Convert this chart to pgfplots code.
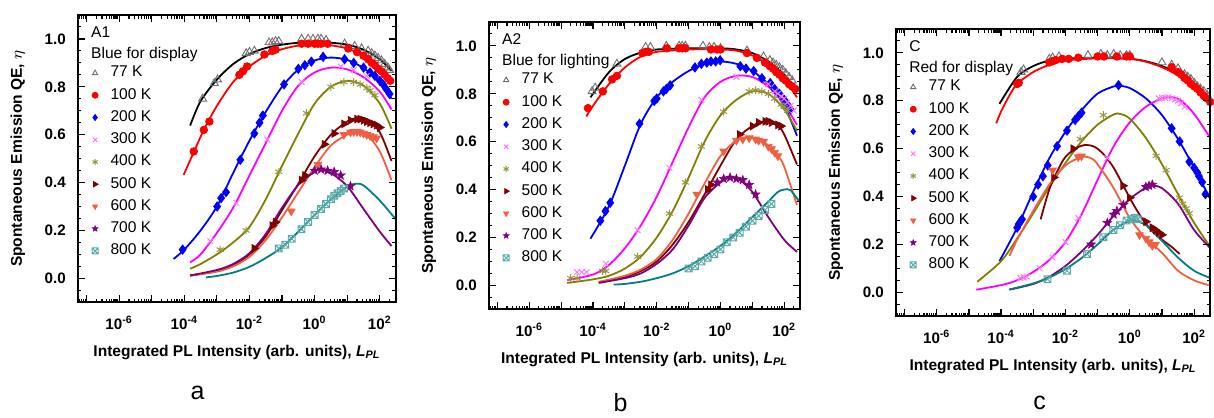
\documentclass[border=0pt]{standalone}
\usepackage{fontspec}
\setmainfont{Liberation Sans}
\usepackage{pgfplots}
\pgfplotsset{compat=1.18}
\usetikzlibrary{plotmarks}

\definecolor{cGray}{RGB}{110,110,110}
\definecolor{cMag}{RGB}{255,0,255}
\definecolor{cMagM}{RGB}{255,120,255}
\definecolor{cOlive}{RGB}{128,128,0}
\definecolor{cOliveM}{RGB}{150,150,60}
\definecolor{cDRed}{RGB}{128,0,0}
\definecolor{cOrng}{RGB}{240,96,64}
\definecolor{cPurp}{RGB}{128,0,128}
\definecolor{cTeal}{RGB}{0,128,128}
\definecolor{cTealM}{RGB}{90,170,170}

% filled five-point star
\pgfdeclareplotmark{fstar}{%
  \pgfpathmoveto{\pgfpointpolar{90}{\pgfplotmarksize}}%
  \pgfpathlineto{\pgfpointpolar{126}{0.42\pgfplotmarksize}}%
  \pgfpathlineto{\pgfpointpolar{162}{\pgfplotmarksize}}%
  \pgfpathlineto{\pgfpointpolar{198}{0.42\pgfplotmarksize}}%
  \pgfpathlineto{\pgfpointpolar{234}{\pgfplotmarksize}}%
  \pgfpathlineto{\pgfpointpolar{270}{0.42\pgfplotmarksize}}%
  \pgfpathlineto{\pgfpointpolar{306}{\pgfplotmarksize}}%
  \pgfpathlineto{\pgfpointpolar{342}{0.42\pgfplotmarksize}}%
  \pgfpathlineto{\pgfpointpolar{18}{\pgfplotmarksize}}%
  \pgfpathlineto{\pgfpointpolar{54}{0.42\pgfplotmarksize}}%
  \pgfpathclose\pgfusepathqfillstroke}
% box with a cross
\pgfdeclareplotmark{boxx}{%
  \pgfpathrectangle{\pgfpoint{-\pgfplotmarksize}{-\pgfplotmarksize}}{\pgfpoint{2\pgfplotmarksize}{2\pgfplotmarksize}}%
  \pgfpathmoveto{\pgfpoint{-\pgfplotmarksize}{-\pgfplotmarksize}}%
  \pgfpathlineto{\pgfpoint{\pgfplotmarksize}{\pgfplotmarksize}}%
  \pgfpathmoveto{\pgfpoint{-\pgfplotmarksize}{\pgfplotmarksize}}%
  \pgfpathlineto{\pgfpoint{\pgfplotmarksize}{-\pgfplotmarksize}}%
  \pgfusepathqstroke}

\pgfplotsset{legend image code/.code={\path (0cm,0cm) (0.38cm,0cm); \draw[#1,mark size=1.5pt] plot coordinates {(0.15cm,0cm)};}}

\pgfplotsset{
  qe/.style={
    scale only axis, height=144pt,
    xmin=5.4e-8, xmax=316, ymin=-0.1, ymax=1.1,
    axis line style={draw=black,line width=0.9pt},
    tick style={draw=black,line width=0.6pt},
    xtick={1e-7,1e-6,1e-5,1e-4,1e-3,1e-2,1e-1,1,1e1,1e2},
    xticklabels={,10\textsuperscript{-6},,10\textsuperscript{-4},,10\textsuperscript{-2},,10\textsuperscript{0},,10\textsuperscript{2}},
    ytick={0,0.2,0.4,0.6,0.8,1},
    yticklabels={0.0,0.2,0.4,0.6,0.8,1.0},
    major tick length=3.5pt, minor tick length=1.8pt,
    tick label style={font=\fontsize{7.6}{9}\selectfont\bfseries},
    yticklabel style={xshift=-2.5pt},
    xticklabel style={yshift=-3.5pt},
    label style={font=\fontsize{7.8}{9.5}\selectfont\bfseries},
    xlabel style={yshift=-1pt},
    ylabel style={yshift=3pt},
    xlabel={Integrated PL Intensity (arb. units), \textit{L}\textsubscript{\textit{PL}}},
    ylabel={Spontaneous Emission QE, $\eta$},
    legend style={draw=none,fill=none,at={(0,1)},anchor=north west,xshift=4pt,yshift=-23pt,
      font=\fontsize{7.8}{9}\selectfont,inner sep=0pt,row sep=-0.8pt,
      nodes={inner xsep=1pt,inner ysep=2.5pt}},
    legend cell align=left,
  },
  curve/.style={smooth,no markers,line width=0.9pt,forget plot},
  m77/.style={only marks,color=cGray,mark=triangle,mark size=2.3pt,mark options={solid,line width=0.45pt,fill=none}},
  m100/.style={only marks,color=red,mark=*,mark size=1.9pt,mark options={solid}},
  m200/.style={only marks,color=blue,mark=diamond*,mark size=2.3pt,mark options={solid}},
  m300/.style={only marks,color=cMagM,mark=x,mark size=2pt,mark options={solid,line width=0.5pt}},
  m400/.style={only marks,color=cOliveM,mark=asterisk,mark size=2pt,mark options={solid,line width=0.5pt}},
  m500/.style={only marks,color=cDRed,mark=triangle*,mark size=2.2pt,mark options={solid,rotate=-90}},
  m600/.style={only marks,color=cOrng,mark=triangle*,mark size=2.2pt,mark options={solid,rotate=180}},
  m700/.style={only marks,color=cPurp,mark=fstar,mark size=2.3pt,mark options={solid,line width=0.3pt}},
  m800/.style={only marks,color=cTealM,mark=boxx,mark size=1.7pt,mark options={solid,line width=0.5pt}},
}

\newcommand{\ttl}[2]{%
  \node[anchor=base west,inner sep=0pt,font=\fontsize{7.8}{9}\selectfont,xshift=6.5pt,yshift=-11.3pt] at (rel axis cs:0,1) {#1};
  \node[anchor=base west,inner sep=0pt,font=\fontsize{7.8}{9}\selectfont,xshift=6.5pt,yshift=-21.7pt] at (rel axis cs:0,1) {#2};}

% frame and inward ticks built from thin filled bars: #1 left, #2 bottom, #3 width (pt)
\newcommand{\frm}[3]{%
  \begin{scope}[x=1pt,y=1pt,fill=black,fill opacity=1]
  \pgfmathsetmacro{\frsc}{#3/9.7673}
  \fill ({#1-0.45},{#2-0.45}) rectangle ({#1+#3+0.45},{#2+0.45});
  \fill ({#1-0.45},{#2+143.55}) rectangle ({#1+#3+0.45},{#2+144.45});
  \fill ({#1-0.45},{#2}) rectangle ({#1+0.45},{#2+144});
  \fill ({#1+#3-0.45},{#2}) rectangle ({#1+#3+0.45},{#2+144});
  \foreach \d in {-7,...,2}{
    \pgfmathsetmacro{\xx}{#1+(\d+7.2676)*\frsc}
    \fill ({\xx-0.3},{#2}) rectangle ({\xx+0.3},{#2+3.5});
    \fill ({\xx-0.3},{#2+144}) rectangle ({\xx+0.3},{#2+140.5});}
  \foreach \d/\m in {-8/6,-8/7,-8/8,-8/9,2/2,2/3}{
    \pgfmathsetmacro{\xx}{#1+(\d+log10(\m)+7.2676)*\frsc}
    \fill ({\xx-0.25},{#2}) rectangle ({\xx+0.25},{#2+1.8});
    \fill ({\xx-0.25},{#2+144}) rectangle ({\xx+0.25},{#2+142.2});}
  \foreach \d in {-7,...,1}{\foreach \m in {2,...,9}{
    \pgfmathsetmacro{\xx}{#1+(\d+log10(\m)+7.2676)*\frsc}
    \fill ({\xx-0.25},{#2}) rectangle ({\xx+0.25},{#2+1.8});
    \fill ({\xx-0.25},{#2+144}) rectangle ({\xx+0.25},{#2+142.2});}}
  \foreach \u in {0,0.2,0.4,0.6,0.8,1}{
    \pgfmathsetmacro{\yy}{#2+(\u+0.1)*120}
    \fill ({#1},{\yy-0.3}) rectangle ({#1+3.5},{\yy+0.3});
    \fill ({#1+#3},{\yy-0.3}) rectangle ({#1+#3-3.5},{\yy+0.3});}
  \foreach \u in {-0.05,0.05,0.1,0.15,0.25,0.3,0.35,0.45,0.5,0.55,0.65,0.7,0.75,0.85,0.9,0.95,1.05}{
    \pgfmathsetmacro{\yy}{#2+(\u+0.1)*120}
    \fill ({#1},{\yy-0.25}) rectangle ({#1+1.8},{\yy+0.25});
    \fill ({#1+#3},{\yy-0.25}) rectangle ({#1+#3-1.8},{\yy+0.25});}
  \end{scope}}

\begin{document}
\begin{tikzpicture}
% page extent: moves only, nothing drawn
\path (0,0) (607pt,-207.5pt);

% ---------------- panel a ----------------
\begin{axis}[xmode=log,qe,width=159.5pt,at={(39pt,-151.5pt)},anchor=south west]
\addplot[curve,black] coordinates {(1.51e-4,0.638) (3.16e-4,0.74) (1e-3,0.83) (3.16e-3,0.895) (1e-2,0.937) (3.16e-2,0.962) (0.1,0.976) (0.316,0.984) (1,0.986) (3.16,0.984) (10,0.976) (31.6,0.955) (100,0.915) (229,0.866)};
\addplot[m77] coordinates {(3.63e-4,0.75) (8.32e-4,0.815) (1.05e-3,0.83) (7.94e-3,0.94) (1e-2,0.945) (1.41e-2,0.95) (3.98e-2,0.985) (5.01e-2,0.985) (6.31e-2,0.99) (7.94e-2,0.99) (0.398,1.0) (0.631,1.0) (0.891,1.0) (1.26,1.0) (1.58,1.0) (2.24,0.995) (8.32,0.98) (17.0,0.97) (27.5,0.96) (43.7,0.95) (56.2,0.94) (70.8,0.93) (89.1,0.92) (112,0.91) (141,0.895) (178,0.88) (200,0.87)};
\addplot[curve,red] coordinates {(9.55e-5,0.432) (2.0e-4,0.53) (3.98e-4,0.62) (1e-3,0.72) (3.16e-3,0.82) (1e-2,0.885) (3.16e-2,0.93) (0.1,0.957) (0.316,0.972) (1,0.977) (3.16,0.973) (10,0.96) (31.6,0.93) (100,0.88) (229,0.82)};
\addplot[m100] coordinates {(1.95e-4,0.53) (3.98e-4,0.62) (5.89e-4,0.655) (4.9e-3,0.85) (6.31e-3,0.865) (8.51e-3,0.885) (2.88e-2,0.935) (5.01e-2,0.95) (6.31e-2,0.955) (0.398,0.98) (0.631,0.98) (1,0.98) (1.26,0.98) (1.58,0.98) (2.51,0.98) (10.7,0.96) (20.0,0.945) (31.6,0.93) (43.7,0.915) (56.2,0.9) (70.8,0.89) (89.1,0.875) (112,0.865) (141,0.85) (178,0.835) (209,0.825)};
\addplot[curve,blue] coordinates {(4.68e-5,0.081) (1e-4,0.12) (3.16e-4,0.2) (1e-3,0.30) (3.16e-3,0.44) (1e-2,0.575) (3.16e-2,0.695) (0.1,0.80) (0.316,0.872) (1,0.91) (3.16,0.922) (10,0.912) (31.6,0.878) (100,0.82) (229,0.75)};
\addplot[m200] coordinates {(8.91e-5,0.12) (1.02e-3,0.30) (1.35e-3,0.335) (1.91e-3,0.36) (5.25e-3,0.495) (1.41e-2,0.605) (2.04e-2,0.65) (2.57e-2,0.68) (0.115,0.81) (0.316,0.875) (0.501,0.89) (0.794,0.905) (1.82,0.925) (8.32,0.915) (15.8,0.9) (31.6,0.88) (50.1,0.86) (70.8,0.845) (100,0.825) (126,0.81) (158,0.79) (200,0.77)};
\addplot[curve,cMag] coordinates {(1.51e-4,0.067) (3.16e-4,0.1) (1e-3,0.19) (3.16e-3,0.295) (1e-2,0.43) (3.16e-2,0.565) (0.1,0.70) (0.316,0.805) (1,0.86) (3.16,0.88) (10,0.873) (31.6,0.84) (100,0.78) (229,0.705)};
\addplot[m300] coordinates {(6.31e-4,0.155) (3.98e-3,0.315) (3.55e-2,0.58) (0.398,0.82) (6.31,0.885) (15.8,0.87) (39.8,0.845)};
\addplot[curve,cOlive] coordinates {(1.51e-4,0.04) (3.16e-4,0.06) (1e-3,0.1) (3.16e-3,0.15) (1e-2,0.215) (3.16e-2,0.33) (0.1,0.47) (0.316,0.605) (1,0.73) (3.16,0.8) (10,0.825) (31.6,0.805) (100,0.73) (229,0.625)};
\addplot[m400] coordinates {(1.26e-3,0.12) (7.94e-3,0.2) (7.94e-2,0.445) (0.562,0.69) (3.16,0.8) (7.94,0.82) (15.8,0.82) (25.1,0.81) (39.8,0.795) (50.1,0.785) (70.8,0.765)};
\addplot[curve,cDRed] coordinates {(1.51e-4,0.012) (1e-3,0.03) (3.16e-3,0.055) (1e-2,0.1) (3.16e-2,0.175) (0.1,0.285) (0.316,0.395) (1,0.51) (3.16,0.6) (10,0.655) (20,0.67) (39.8,0.665) (100,0.61) (229,0.49)};
\addplot[m500] coordinates {(1.41e-2,0.125) (5.01e-2,0.22) (6.31e-2,0.235) (0.398,0.41) (0.501,0.43) (2.0,0.56) (3.98,0.605) (7.94,0.645) (12.6,0.66) (20.0,0.665) (25.1,0.665) (31.6,0.66) (39.8,0.655) (50.1,0.65) (63.1,0.645) (79.4,0.64) (100,0.63)};
\addplot[curve,cOrng] coordinates {(1.51e-4,0.011) (1e-3,0.028) (3.16e-3,0.05) (1e-2,0.09) (3.16e-2,0.16) (0.1,0.255) (0.316,0.36) (1,0.465) (3.16,0.555) (10,0.6) (20,0.61) (39.8,0.6) (100,0.53) (229,0.41)};
\addplot[m600] coordinates {(0.191,0.28) (1.26,0.475) (7.94,0.6) (12.6,0.61) (15.8,0.612) (20.0,0.612) (25.1,0.61) (31.6,0.605) (39.8,0.6) (50.1,0.595) (63.1,0.59) (79.4,0.585)};
\addplot[curve,cPurp] coordinates {(1.51e-4,0.012) (1e-3,0.035) (3.16e-3,0.06) (1e-2,0.105) (3.16e-2,0.185) (0.1,0.295) (0.316,0.39) (1,0.445) (1.58,0.452) (3.16,0.44) (10,0.385) (31.6,0.29) (100,0.195) (229,0.135)};
\addplot[m700] coordinates {(1,0.45) (1.58,0.455) (2.51,0.45) (3.98,0.445) (6.31,0.43) (12.6,0.385)};
\addplot[curve,cTeal] coordinates {(4.68e-4,0.004) (1e-3,0.01) (3.16e-3,0.024) (1e-2,0.048) (3.16e-2,0.085) (0.1,0.13) (0.316,0.195) (1,0.265) (3.16,0.33) (10,0.383) (17.8,0.395) (31.6,0.388) (100,0.325) (316,0.245)};
\addplot[m800] coordinates {(7.94e-2,0.125) (0.126,0.14) (0.2,0.165) (0.398,0.205) (0.631,0.235) (1,0.265) (1.58,0.29) (2.24,0.31) (3.16,0.33) (3.98,0.345) (5.01,0.355) (6.31,0.365) (7.94,0.375)};
\legend{77 K,100 K,200 K,300 K,400 K,500 K,600 K,700 K,800 K}
\ttl{A1}{Blue for display}
\end{axis}

% ---------------- panel b ----------------
\begin{axis}[xmode=log,qe,width=156pt,at={(245pt,-155pt)},anchor=south west]
\addplot[curve,black] coordinates {(8.32e-5,0.785) (3.16e-4,0.89) (1e-3,0.945) (3.16e-3,0.972) (1e-2,0.985) (0.1,0.99) (1,0.99) (3.16,0.985) (10,0.97) (31.6,0.935) (100,0.88) (251,0.81)};
\addplot[m77] coordinates {(9.33e-5,0.81) (1.17e-4,0.825) (5.62e-4,0.925) (4.47e-3,0.995) (6.31e-3,0.995) (2.0e-2,1.0) (5.01e-2,1.0) (6.31e-2,1.0) (7.94e-2,1.0) (0.282,1.0) (0.447,0.995) (0.631,0.995) (1,0.99) (6.76,0.98) (22.4,0.955) (35.5,0.94) (44.7,0.93) (56.2,0.92) (70.8,0.91) (89.1,0.9) (112,0.885) (141,0.87) (178,0.855)};
\addplot[curve,red] coordinates {(6.17e-5,0.705) (1e-4,0.75) (3.16e-4,0.84) (1e-3,0.91) (3.16e-3,0.955) (1e-2,0.975) (0.1,0.985) (1,0.985) (3.16,0.98) (10,0.96) (31.6,0.92) (100,0.86) (251,0.785)};
\addplot[m100] coordinates {(6.92e-5,0.74) (2.04e-4,0.81) (3.98e-4,0.86) (5.62e-4,0.875) (3.55e-3,0.97) (4.47e-3,0.975) (5.62e-3,0.975) (2.09e-2,0.99) (5.01e-2,0.99) (6.31e-2,0.99) (7.94e-2,0.99) (0.501,0.985) (0.794,0.985) (1,0.985) (6.76,0.97) (13.8,0.95) (25.1,0.93) (35.5,0.915) (44.7,0.905) (56.2,0.89) (70.8,0.88) (89.1,0.865) (112,0.855) (141,0.84) (178,0.83) (224,0.82)};
\addplot[curve,blue] coordinates {(8.32e-5,0.195) (3.16e-4,0.33) (1e-3,0.5) (3.16e-3,0.675) (1e-2,0.785) (3.16e-2,0.85) (0.1,0.895) (0.316,0.925) (1,0.935) (3.16,0.925) (10,0.895) (31.6,0.84) (100,0.75) (251,0.625)};
\addplot[m200] coordinates {(1.7e-4,0.27) (2.45e-4,0.31) (3.47e-4,0.345) (2.88e-3,0.675) (8.32e-3,0.77) (1e-2,0.78) (1.62e-2,0.81) (2.0e-2,0.82) (2.63e-2,0.835) (0.158,0.91) (0.251,0.925) (0.372,0.93) (0.501,0.935) (0.708,0.935) (0.977,0.94) (4.17,0.915) (6.31,0.905) (11.0,0.895) (20.0,0.865) (36.3,0.845) (50.1,0.82) (70.8,0.8) (100,0.775) (126,0.755) (158,0.735)};
\addplot[curve,cMag] coordinates {(1.55e-5,0.022) (1e-4,0.045) (3.16e-4,0.085) (1e-3,0.155) (3.16e-3,0.25) (1e-2,0.37) (3.16e-2,0.515) (0.1,0.66) (0.316,0.785) (1,0.85) (3.16,0.875) (10,0.87) (31.6,0.83) (100,0.755) (251,0.67)};
\addplot[m300] coordinates {(3.16e-5,0.055) (4.47e-5,0.055) (6.31e-5,0.055) (2.51e-4,0.09) (2.51e-3,0.23) (2.51e-2,0.49) (0.251,0.775) (3.16,0.87) (31.6,0.84) (50.1,0.81) (63.1,0.8) (79.4,0.79) (100,0.78) (126,0.765) (158,0.75) (200,0.73)};
\addplot[curve,cOlive] coordinates {(1.55e-5,0.01) (1e-4,0.025) (3.16e-4,0.04) (1e-3,0.07) (3.16e-3,0.12) (1e-2,0.2) (3.16e-2,0.31) (0.1,0.45) (0.316,0.6) (1,0.71) (3.16,0.775) (10,0.81) (31.6,0.8) (100,0.735) (251,0.645)};
\addplot[m400] coordinates {(2.0e-5,0.03) (3.16e-5,0.03) (2.0e-4,0.06) (2.51e-4,0.06) (2.51e-3,0.12) (2.51e-2,0.3) (7.94e-2,0.43) (0.251,0.58) (1.26,0.725) (7.94,0.81) (12.6,0.815) (20.0,0.81) (31.6,0.8) (50.1,0.78) (79.4,0.755) (100,0.745) (126,0.73)};
\addplot[curve,cDRed] coordinates {(1.51e-4,0.014) (1e-3,0.035) (3.16e-3,0.06) (1e-2,0.1) (3.16e-2,0.17) (0.1,0.265) (0.316,0.38) (1,0.5) (3.16,0.61) (10,0.665) (25.1,0.685) (63.1,0.665) (100,0.63) (251,0.505)};
\addplot[m500] coordinates {(0.398,0.4) (0.501,0.42) (3.98,0.63) (10,0.665) (15.8,0.68) (25.1,0.685) (31.6,0.685) (39.8,0.68) (63.1,0.67) (79.4,0.665)};
\addplot[curve,cOrng] coordinates {(1.51e-4,0.014) (1e-3,0.04) (3.16e-3,0.066) (1e-2,0.11) (3.16e-2,0.19) (0.1,0.3) (0.316,0.425) (1,0.54) (3.16,0.605) (7.94,0.618) (20,0.605) (63.1,0.54) (100,0.495) (251,0.335)};
\addplot[m600] coordinates {(0.182,0.38) (1.26,0.56) (3.16,0.605) (5.01,0.61) (7.94,0.615) (12.6,0.61) (15.8,0.605) (22.4,0.6) (31.6,0.58) (39.8,0.57) (50.1,0.555) (63.1,0.54)};
\addplot[curve,cPurp] coordinates {(1.51e-4,0.01) (1e-3,0.03) (3.16e-3,0.05) (1e-2,0.09) (3.16e-2,0.15) (0.1,0.25) (0.316,0.365) (1,0.43) (2.0,0.45) (3.98,0.44) (10,0.39) (31.6,0.285) (100,0.19) (251,0.14)};
\addplot[m700] coordinates {(0.794,0.43) (1.26,0.445) (2.0,0.45) (3.16,0.445) (5.01,0.44) (7.94,0.42) (12.6,0.38)};
\addplot[curve,cTeal] coordinates {(4.47e-4,0.003) (1e-3,0.006) (3.16e-3,0.015) (1e-2,0.03) (3.16e-2,0.05) (0.1,0.08) (0.316,0.12) (1,0.165) (3.16,0.22) (10,0.285) (31.6,0.35) (63.1,0.39) (100,0.4) (158,0.397) (316,0.345)};
\addplot[m800] coordinates {(0.1,0.07) (0.158,0.08) (0.251,0.1) (0.398,0.115) (0.631,0.13) (1,0.15) (1.58,0.18) (2.51,0.2) (3.98,0.22) (6.31,0.245) (10,0.27) (15.8,0.29) (25.1,0.315) (39.8,0.34)};
\legend{77 K,100 K,200 K,300 K,400 K,500 K,600 K,700 K,800 K}
\ttl{A2}{Blue for lighting}
\end{axis}

% ---------------- panel c ----------------
\begin{axis}[xmode=log,qe,width=157.5pt,at={(449pt,-158.5pt)},anchor=south west]
\addplot[curve,black] coordinates {(8.91e-5,0.787) (3.16e-4,0.9) (1e-3,0.945) (3.16e-3,0.968) (1e-2,0.976) (0.1,0.98) (1,0.975) (3.16,0.965) (10,0.945) (31.6,0.915) (100,0.87) (316,0.8)};
\addplot[m77] coordinates {(4.17e-4,0.92) (5.01e-4,0.93) (3.16e-3,0.975) (3.98e-3,0.98) (6.31e-3,0.985) (5.01e-2,0.99) (0.126,0.995) (0.2,0.99) (0.316,0.995) (0.501,0.99) (0.794,0.99) (1,0.99) (10,0.96) (20,0.95) (31.6,0.935) (50.1,0.91) (63.1,0.9) (79.4,0.89) (100,0.875) (126,0.86) (158,0.85) (200,0.84) (251,0.825)};
\addplot[curve,red] coordinates {(7.08e-5,0.706) (1e-4,0.755) (1.78e-4,0.82) (3.16e-4,0.87) (1e-3,0.92) (3.16e-3,0.95) (1e-2,0.968) (0.1,0.977) (1,0.975) (3.16,0.963) (10,0.94) (31.6,0.905) (100,0.855) (316,0.785)};
\addplot[m100] coordinates {(3.16e-4,0.87) (3.55e-4,0.875) (3.16e-3,0.96) (3.98e-3,0.965) (5.01e-3,0.97) (7.94e-3,0.975) (1.26e-2,0.975) (2.51e-2,0.98) (0.1,0.985) (0.158,0.985) (0.398,0.985) (0.794,0.985) (1,0.985) (20,0.94) (31.6,0.92) (39.8,0.91) (50.1,0.895) (63.1,0.885) (79.4,0.87) (100,0.86) (126,0.85) (158,0.835) (200,0.82) (251,0.81) (316,0.795)};
\addplot[curve,blue] coordinates {(8.91e-5,0.13) (3.16e-4,0.27) (1e-3,0.42) (3.16e-3,0.56) (1e-2,0.67) (3.16e-2,0.76) (0.1,0.83) (0.316,0.86) (0.447,0.863) (1,0.853) (3.16,0.81) (10,0.74) (31.6,0.64) (100,0.52) (316,0.39)};
\addplot[m200] coordinates {(3.16e-4,0.27) (3.55e-4,0.285) (3.98e-4,0.295) (4.47e-4,0.305) (1e-3,0.4) (1.41e-3,0.45) (2.0e-3,0.485) (2.82e-3,0.53) (5.5e-3,0.61) (1.12e-2,0.675) (2.0e-2,0.72) (2.51e-2,0.735) (3.16e-2,0.75) (0.447,0.865) (20,0.685) (35.5,0.63) (70.8,0.545) (100,0.52) (126,0.5) (141,0.485) (178,0.46) (224,0.41)};
\addplot[curve,cMag] coordinates {(1.7e-5,0.011) (1e-4,0.03) (3.16e-4,0.05) (1e-3,0.085) (3.16e-3,0.135) (1e-2,0.21) (3.16e-2,0.325) (0.1,0.47) (0.316,0.61) (1,0.71) (3.16,0.775) (10,0.81) (20,0.815) (39.8,0.8) (100,0.745) (316,0.645)};
\addplot[m300] coordinates {(3.98e-4,0.06) (5.01e-4,0.062) (6.31e-4,0.065) (1.58e-3,0.1) (3.98e-3,0.145) (1e-2,0.21) (2.51e-2,0.31) (0.2,0.56) (7.94,0.81) (10,0.812) (12.6,0.812) (15.8,0.815) (20,0.81) (25.1,0.805) (31.6,0.8) (39.8,0.79) (50.1,0.775)};
\addplot[curve,cOlive] coordinates {(1.82e-5,0.044) (1e-4,0.13) (3.16e-4,0.225) (1e-3,0.33) (3.16e-3,0.44) (1e-2,0.54) (3.16e-2,0.63) (0.1,0.7) (0.316,0.743) (0.501,0.745) (1,0.725) (3.16,0.645) (10,0.535) (31.6,0.41) (100,0.29) (316,0.19)};
\addplot[m400] coordinates {(2.88e-2,0.64) (0.151,0.74) (6.61,0.57) (13.5,0.51) (34.7,0.395) (44.7,0.37) (56.2,0.35) (70.8,0.33)};
\addplot[curve,cDRed] coordinates {(1.7e-3,0.305) (3.16e-3,0.43) (6.31e-3,0.52) (1e-2,0.565) (2.0e-2,0.6) (3.98e-2,0.615) (7.94e-2,0.608) (0.158,0.575) (0.316,0.52) (0.631,0.445) (1.26,0.37) (2.51,0.305) (5.01,0.255) (10,0.22) (20,0.19) (35.5,0.16)};
\addplot[m500] coordinates {(4.37e-3,0.48) (1.74e-2,0.6) (0.617,0.445) (1,0.395) (3.16,0.295) (5.01,0.27) (6.31,0.26) (7.94,0.25) (10,0.24)};
\addplot[curve,cOrng] coordinates {(1.82e-4,0.152) (3.16e-4,0.22) (1e-3,0.34) (3.16e-3,0.45) (1e-2,0.53) (3.16e-2,0.565) (6.31e-2,0.56) (0.1,0.535) (0.316,0.435) (1,0.31) (3.16,0.225) (10,0.165) (31.6,0.09) (100,0.05) (282,0.03)};
\addplot[m600] coordinates {(3.98e-3,0.51) (2.51e-2,0.565) (3.16e-2,0.568) (2.0,0.24) (3.16,0.225) (3.98,0.21) (5.01,0.195) (6.31,0.2)};
\addplot[curve,cPurp] coordinates {(1.82e-4,0.011) (1e-3,0.035) (3.16e-3,0.065) (1e-2,0.11) (3.16e-2,0.17) (0.1,0.24) (0.316,0.32) (1,0.39) (3.16,0.437) (5.01,0.445) (10,0.435) (31.6,0.37) (100,0.26) (316,0.185)};
\addplot[m700] coordinates {(6.31e-2,0.2) (0.2,0.29) (0.316,0.325) (0.398,0.34) (0.631,0.365) (3.16,0.44) (3.98,0.445) (5.01,0.45)};
\addplot[curve,cTeal] coordinates {(1.82e-4,0.012) (1e-3,0.037) (3.16e-3,0.062) (1e-2,0.097) (3.16e-2,0.143) (0.1,0.2) (0.316,0.262) (1,0.3) (1.26,0.303) (3.16,0.28) (10,0.215) (31.6,0.145) (100,0.09) (316,0.06)};
\addplot[m800] coordinates {(2.75e-3,0.055) (1.12e-2,0.09) (4.68e-2,0.16) (0.151,0.23) (0.309,0.26) (0.501,0.28) (0.794,0.3) (1.12,0.305) (1.41,0.31) (1.78,0.305)};
\legend{77 K,100 K,200 K,300 K,400 K,500 K,600 K,700 K,800 K}
\ttl{C}{Red for display}
\end{axis}

\frm{39}{-151.5}{159.5}
\frm{245}{-155}{156}
\frm{449}{-158.5}{157.5}

\node[anchor=base,font=\fontsize{12.5}{15}\selectfont] at (99pt,-200pt) {a};
\node[anchor=base,font=\fontsize{12.5}{15}\selectfont] at (311pt,-206pt) {b};
\node[anchor=base,font=\fontsize{12.5}{15}\selectfont] at (521pt,-205pt) {c};
\end{tikzpicture}
\end{document}
